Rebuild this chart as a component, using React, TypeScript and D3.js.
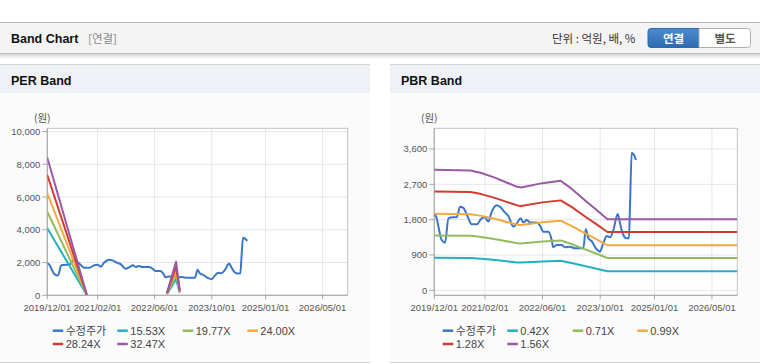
import React from 'react';
import * as d3 from 'd3';

const xTickLabels = ['2019/12/01', '2021/02/01', '2022/06/01', '2023/10/01', '2025/01/01', '2026/05/01'];
const xDomainLabels = ['2019/12/01', '2026/12/01'];

const priceDates = [
  '2019/12/01', '2019/12/20', '2020/01/05', '2020/02/01', '2020/03/01', '2020/03/29', '2020/05/07', '2020/06/07',
  '2020/07/05', '2020/08/02', '2020/09/13', '2020/10/12', '2020/11/23', '2021/01/04', '2021/02/01', '2021/03/01',
  '2021/03/29', '2021/05/11', '2021/06/07', '2021/07/20', '2021/08/16', '2021/09/28', '2021/10/26', '2021/11/29',
  '2021/12/21', '2022/01/19', '2022/02/16', '2022/04/13', '2022/05/11', '2022/06/08', '2022/07/20', '2022/08/18',
  '2022/08/31', '2022/09/29', '2022/11/10', '2022/12/08', '2023/01/19', '2023/03/02', '2023/04/14', '2023/05/12',
  '2023/06/01', '2023/06/23', '2023/07/21', '2023/09/01', '2023/09/29', '2023/10/27', '2023/11/25', '2023/12/23',
  '2024/01/20', '2024/02/26', '2024/03/16', '2024/04/13', '2024/05/12', '2024/05/31', '2024/06/09', '2024/06/23',
  '2024/07/12', '2024/07/29',
];
const priceValues = [
  1950, 1850, 1620, 1280, 1213, 1834, 1860, 1860,
  2130, 2100, 1834, 1680, 1680, 1834, 1860, 1750,
  2000, 2170, 2130, 1980, 1900, 1620, 1700, 1834,
  1730, 1790, 1730, 1730, 1650, 1490, 1490, 1280,
  1095, 1154, 1154, 1095, 1110, 1070, 1070, 1070,
  1560, 1325, 1250, 1045, 985, 1200, 1383, 1350,
  1536, 1944, 1707, 1409, 1325, 1325, 2217, 3506,
  3447, 3320,
];

const perBandNames = ['15.53X', '19.77X', '24.00X', '28.24X', '32.47X'];
const perBandDates = ['2019/12/01', '2020/11/01', '2021/06/01', '2022/09/15', '2022/12/01', '2023/01/01'];
const per1553 = [4090, 20, null, 70, 980, 150];
const per1977 = [5104, 25, null, 90, 1245, 190];
const per2400 = [6227, 30, null, 110, 1510, 230];
const per2824 = [7344, 36, null, 130, 1780, 270];
const per3247 = [8400, 42, null, 150, 2045, 310];
const perTicks = [0, 2000, 4000, 6000, 8000, 10000];

const pbrBandNames = ['0.42X', '0.71X', '0.99X', '1.28X', '1.56X'];
const pbrBandDates = [
  '2019/12/01', '2020/10/01', '2021/01/01', '2021/05/01', '2021/08/01', '2021/11/01', '2021/12/01',
  '2022/06/01', '2022/11/01', '2023/02/01', '2023/06/01', '2023/09/01', '2023/12/01', '2026/12/01',
];
const pbr042 = [827, 821, 804, 771, 739, 710, 706, 735, 752, 697, 613, 551, 487, 487];
const pbr071 = [1397, 1388, 1360, 1303, 1250, 1200, 1193, 1243, 1271, 1179, 1037, 932, 824, 824];
const pbr099 = [1948, 1935, 1896, 1817, 1742, 1673, 1663, 1733, 1772, 1643, 1445, 1299, 1148, 1148];
const pbr128 = [2519, 2502, 2451, 2349, 2253, 2163, 2150, 2240, 2291, 2125, 1869, 1679, 1485, 1485];
const pbr156 = [3070, 3050, 2987, 2863, 2746, 2636, 2621, 2730, 2792, 2590, 2278, 2047, 1810, 1810];
const pbrTicks = [0, 900, 1800, 2700, 3600];

const priceName = '수정주가';
const bandColors = ['#22b0c2', '#93bb5d', '#f3a941', '#d33a2f', '#9b58a5'];
const priceColor = '#3a76c8';

const parse = d3.timeParse('%Y/%m/%d');
const FONT = "'Liberation Sans', Arial, 'Noto Sans CJK KR', sans-serif";
const KFONT = "'Noto Sans CJK KR', 'Liberation Sans', sans-serif";

type ChartProps = {
  ox: number;
  title: string;
  plotLeft: number;
  plotRight: number;
  yDomain: [number, number];
  yTicks: number[];
  bandNames: string[];
  bandDates: string[];
  bands: (number | null)[][];
};

function Chart({ ox, title, plotLeft, plotRight, yDomain, yTicks, bandNames, bandDates, bands }: ChartProps) {
  const top = 128.3;
  const bottom = 295.3;
  const x = d3.scaleTime().domain(xDomainLabels.map((d) => parse(d) as Date)).range([plotLeft, plotRight]);
  const y = d3.scaleLinear().domain(yDomain).range([bottom, top]);
  const fmt = d3.format(',');

  const line = d3
    .line<{ d: Date; v: number | null }>()
    .defined((p) => p.v !== null)
    .x((p) => x(p.d))
    .y((p) => y(p.v as number));

  const pricePath = line.curve(d3.curveMonotoneX)(
    priceDates.map((d, i) => ({ d: parse(d) as Date, v: priceValues[i] }))
  ) as string;

  const bandLine = d3
    .line<{ d: Date; v: number | null }>()
    .defined((p) => p.v !== null)
    .x((p) => x(p.d))
    .y((p) => y(p.v as number));

  const legendItems = [{ name: priceName, color: priceColor }].concat(
    bandNames.map((n, i) => ({ name: n, color: bandColors[i] }))
  );
  const colX = [52.7, 117.3, 182.7, 247.3];

  const clipId = 'clip' + ox;

  return (
    <g>
      <rect x={ox} y={64} width={370} height={298} fill="#fbfbfb" />
      <rect x={ox} y={64} width={370} height={29} fill="#eef1f6" />
      <line x1={ox} x2={ox + 370} y1={64.5} y2={64.5} stroke="#d4d4d4" />
      <text x={ox + 11} y={85} fontFamily={FONT} fontWeight="bold" fontSize={12.5} fill="#111">
        {title}
      </text>
      <line x1={ox} x2={ox + 370} y1={362.5} y2={362.5} stroke="#d4d4d4" />

      <defs>
        <clipPath id={clipId}>
          <rect x={plotLeft} y={top} width={plotRight - plotLeft} height={bottom - top} />
        </clipPath>
      </defs>
      <rect x={plotLeft} y={top} width={plotRight - plotLeft} height={bottom - top} fill="#ffffff" />
      {yTicks.map((t) => (
        <line key={'gy' + t} x1={plotLeft} x2={plotRight} y1={y(t)} y2={y(t)} stroke="#e6e6e6" />
      ))}
      {xTickLabels.map((t) => (
        <line key={'gx' + t} x1={x(parse(t) as Date)} x2={x(parse(t) as Date)} y1={top} y2={bottom} stroke="#e6e6e6" />
      ))}
      <rect x={plotLeft} y={top} width={plotRight - plotLeft} height={bottom - top} fill="none" stroke="#c2c2c2" />
      <line x1={plotLeft} x2={plotLeft} y1={top} y2={bottom} stroke="#a9a9a9" />
      <line x1={plotLeft} x2={plotRight} y1={bottom} y2={bottom} stroke="#a9a9a9" />
      {yTicks.map((t) => (
        <g key={'ty' + t}>
          <line x1={plotLeft - 5} x2={plotLeft} y1={y(t)} y2={y(t)} stroke="#a9a9a9" />
          <text x={plotLeft - 7} y={y(t) + 3.5} textAnchor="end" fontFamily={FONT} fontSize={9.5} fill="#555">
            {fmt(t)}
          </text>
        </g>
      ))}
      {xTickLabels.map((t) => (
        <g key={'tx' + t}>
          <line x1={x(parse(t) as Date)} x2={x(parse(t) as Date)} y1={bottom} y2={bottom + 4} stroke="#a9a9a9" />
          <text x={x(parse(t) as Date)} y={311} textAnchor="middle" fontFamily={FONT} fontSize={9.5} fill="#555">
            {t}
          </text>
        </g>
      ))}
      <text x={plotLeft - 5} y={121.5} textAnchor="middle" fontFamily={KFONT} fontSize={10.5} fill="#555">
        (원)
      </text>

      <g clipPath={`url(#${clipId})`}>
        <path d={pricePath} fill="none" stroke={priceColor} strokeWidth={2} strokeLinejoin="round" />
        {bands.map((b, i) => (
          <path
            key={'b' + i}
            d={bandLine(bandDates.map((d, j) => ({ d: parse(d) as Date, v: b[j] }))) as string}
            fill="none"
            stroke={bandColors[i]}
            strokeWidth={2}
            strokeLinejoin="round"
          />
        ))}
      </g>

      {legendItems.map((it, i) => {
        const lx = ox + colX[i % 4];
        const ly = i < 4 ? 330.7 : 344;
        return (
          <g key={'lg' + i}>
            <line x1={lx} x2={lx + 10.5} y1={ly} y2={ly} stroke={it.color} strokeWidth={2.5} />
            <text x={lx + 13} y={ly + 4} fontFamily={i === 0 ? KFONT : FONT} fontSize={11} fill="#444">
              {it.name}
            </text>
          </g>
        );
      })}
    </g>
  );
}

export default function App() {
  return (
    <svg
      width={760}
      height={364}
      viewBox="0 0 760 364"
      style={{ position: 'absolute', left: 0, top: 0, background: '#ffffff' }}
    >
      <defs>
        <linearGradient id="hshadow" x1="0" y1="0" x2="0" y2="1">
          <stop offset="0" stopColor="#000" stopOpacity={0.16} />
          <stop offset="1" stopColor="#000" stopOpacity={0} />
        </linearGradient>
        <linearGradient id="btnblue" x1="0" y1="0" x2="0" y2="1">
          <stop offset="0" stopColor="#4d8bd0" />
          <stop offset="1" stopColor="#2d6aae" />
        </linearGradient>
      </defs>
      <rect x={0} y={22} width={760} height={31} fill="#f4f4f4" />
      <line x1={0} x2={760} y1={22.5} y2={22.5} stroke="#b4b4b4" />
      <line x1={0} x2={760} y1={53.5} y2={53.5} stroke="#bdbdbd" />
      <rect x={0} y={54} width={760} height={5} fill="url(#hshadow)" />
      <text x={11} y={43} fontFamily={FONT} fontWeight="bold" fontSize={12.5} fill="#111">
        Band Chart
      </text>
      <text x={88} y={43} fontFamily={KFONT} fontSize={11.5} fill="#8a8a8a">
        [연결]
      </text>
      <text x={552} y={43} fontFamily={KFONT} fontSize={11.5} fill="#333">
        단위 : 억원, 배, %
      </text>
      <path d="M651,28.5 H699 V47.5 H651 Q648,47.5 648,44.5 V31.5 Q648,28.5 651,28.5 Z" fill="url(#btnblue)" stroke="#2f6aae" />
      <path d="M699,28.5 H747.5 Q750.5,28.5 750.5,31.5 V44.5 Q750.5,47.5 747.5,47.5 H699 Z" fill="#ffffff" stroke="#b0b0b0" />
      <text x={673.5} y={42.5} textAnchor="middle" fontFamily={KFONT} fontWeight="bold" fontSize={11.5} fill="#ffffff">
        연결
      </text>
      <text x={725} y={42.5} textAnchor="middle" fontFamily={KFONT} fontWeight="bold" fontSize={11.5} fill="#555">
        별도
      </text>

      <Chart
        ox={0}
        title="PER Band"
        plotLeft={47.3}
        plotRight={347.7}
        yDomain={[0, 10195]}
        yTicks={perTicks}
        bandNames={perBandNames}
        bandDates={perBandDates}
        bands={[per1553, per1977, per2400, per2824, per3247]}
      />
      <Chart
        ox={390}
        title="PBR Band"
        plotLeft={434.3}
        plotRight={737.3}
        yDomain={[-127, 4127]}
        yTicks={pbrTicks}
        bandNames={pbrBandNames}
        bandDates={pbrBandDates}
        bands={[pbr042, pbr071, pbr099, pbr128, pbr156]}
      />
    </svg>
  );
}
